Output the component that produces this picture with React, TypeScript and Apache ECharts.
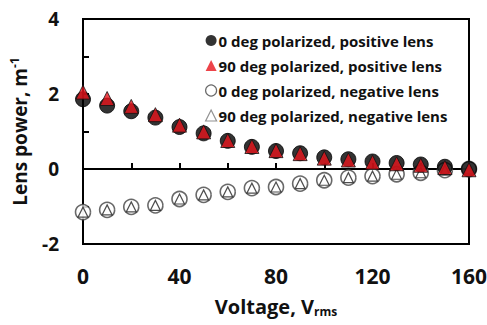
import React, { useEffect, useRef } from "react";
import * as echarts from "echarts";

const voltages = [0, 10, 20, 30, 40, 50, 60, 70, 80, 90, 100, 110, 120, 130, 140, 150, 160];
const pos0 = [1.86, 1.69, 1.54, 1.37, 1.12, 0.95, 0.75, 0.59, 0.48, 0.42, 0.31, 0.26, 0.2, 0.16, 0.12, 0.06, 0.0];
const pos90 = [2.05, 1.88, 1.67, 1.45, 1.17, 0.99, 0.76, 0.6, 0.49, 0.41, 0.29, 0.24, 0.18, 0.14, 0.1, 0.04, -0.02];
const neg0 = [-1.15, -1.09, -1.01, -0.97, -0.8, -0.69, -0.61, -0.51, -0.48, -0.39, -0.3, -0.23, -0.19, -0.14, -0.1, -0.03, 0.0];
const neg90 = [-1.15, -1.09, -1.01, -0.97, -0.8, -0.69, -0.61, -0.51, -0.48, -0.39, -0.3, -0.23, -0.19, -0.14, -0.1, -0.03, 0.0];
const seriesNames = [
  "0 deg polarized, positive lens",
  "90 deg polarized, positive lens",
  "0 deg polarized, negative lens",
  "90 deg polarized, negative lens",
];
const xTickLabels = [0, 40, 80, 120, 160];
const yTickLabels = [-2, 0, 2, 4];

const FONT = "Open Sans";

export default function App() {
  const ref = useRef<HTMLDivElement>(null);
  useEffect(() => {
    if (!ref.current) return;
    const chart = echarts.init(ref.current, null, { renderer: "svg" });
    const pts = (ys: number[]) => voltages.map((v, i) => [v, ys[i]]);
    chart.setOption({
      animation: false,
      backgroundColor: "#ffffff",
      grid: {
        left: 83,
        top: 19,
        right: 18,
        bottom: 81,
        outerBoundsMode: "none",
        containLabel: false,
        show: true,
        borderColor: "#000",
        borderWidth: 2,
        backgroundColor: "transparent",
      },
      legend: {
        orient: "vertical",
        left: 200,
        top: 26,
        itemWidth: 11,
        itemHeight: 11,
        itemGap: 6,
        textStyle: { fontFamily: FONT, fontWeight: "bold", fontSize: 15, color: "#111", lineHeight: 19, padding: [0, 0, 0, -3] },
        data: [
          { name: seriesNames[0], itemStyle: { color: "#000", borderColor: "#000", borderWidth: 0 } },
          { name: seriesNames[1], itemStyle: { color: "#e8141b", borderColor: "#e8141b", borderWidth: 0 } },
          { name: seriesNames[2], itemStyle: { color: "#fff", borderColor: "#444", borderWidth: 1.2 } },
          { name: seriesNames[3], itemStyle: { color: "#fff", borderColor: "#777", borderWidth: 1.2 } },
        ],
      },
      xAxis: {
        type: "value",
        min: 0,
        max: 160,
        interval: 20,
        splitLine: { show: false },
        axisLine: { lineStyle: { color: "#000", width: 2 } },
        axisTick: { inside: true, length: 6, lineStyle: { color: "#000", width: 2 } },
        axisLabel: {
          margin: 21,
          fontFamily: FONT,
          fontWeight: "bold",
          fontSize: 21,
          color: "#111",
          formatter: (v: number) => (xTickLabels.includes(v) ? String(v) : ""),
        },
        name: "{a|Voltage, V}{s|rms}",
        nameLocation: "middle",
        nameGap: 51,
        nameTextStyle: {
          rich: {
            a: { fontFamily: FONT, fontWeight: "bold", fontSize: 20, color: "#111" },
            s: { fontFamily: FONT, fontWeight: "bold", fontSize: 12, color: "#111", verticalAlign: "bottom", padding: [10, 0, 0, 0] },
          },
        },
      },
      yAxis: {
        type: "value",
        min: -2,
        max: 4,
        interval: 1,
        splitLine: { show: false },
        axisLine: { lineStyle: { color: "#000", width: 2 } },
        axisTick: { inside: true, length: 6, lineStyle: { color: "#000", width: 2 } },
        axisLabel: {
          margin: 24,
          fontFamily: FONT,
          fontWeight: "bold",
          fontSize: 19,
          color: "#111",
          formatter: (v: number) => (yTickLabels.includes(v) ? String(v) : ""),
        },
        name: "{a|Lens power, m}{s|-1}",
        nameLocation: "middle",
        nameGap: 52,
        nameTextStyle: {
          rich: {
            a: { fontFamily: FONT, fontWeight: "bold", fontSize: 19, color: "#111" },
            s: { fontFamily: FONT, fontWeight: "bold", fontSize: 12, color: "#111", padding: [0, 0, 11, 0] },
          },
        },
      },
      series: [
        {
          name: seriesNames[2],
          type: "scatter",
          symbol: "circle",
          symbolSize: 15,
          data: pts(neg0),
          itemStyle: { color: "#ffffff", borderColor: "#444", borderWidth: 1.6 },
          z: 2,
        },
        {
          name: seriesNames[3],
          type: "scatter",
          symbol: "triangle",
          symbolSize: 10,
          data: pts(neg90),
          itemStyle: { color: "#ffffff", borderColor: "#222", borderWidth: 1.2 },
          z: 3,
        },
        {
          name: seriesNames[0],
          type: "scatter",
          symbol: "circle",
          symbolSize: 15,
          data: pts(pos0),
          itemStyle: { color: "#000000", borderColor: "#000", borderWidth: 1 },
          z: 4,
        },
        {
          name: seriesNames[1],
          type: "scatter",
          symbol: "triangle",
          symbolSize: 14,
          data: pts(pos90),
          itemStyle: { color: "#e8141b", borderColor: "#111", borderWidth: 1 },
          z: 5,
        },
      ],
    });
    return () => chart.dispose();
  }, []);
  return (
    <div
      ref={ref}
      style={{ position: "fixed", left: 0, top: 0, width: 487, height: 325, overflow: "hidden" }}
    />
  );
}
